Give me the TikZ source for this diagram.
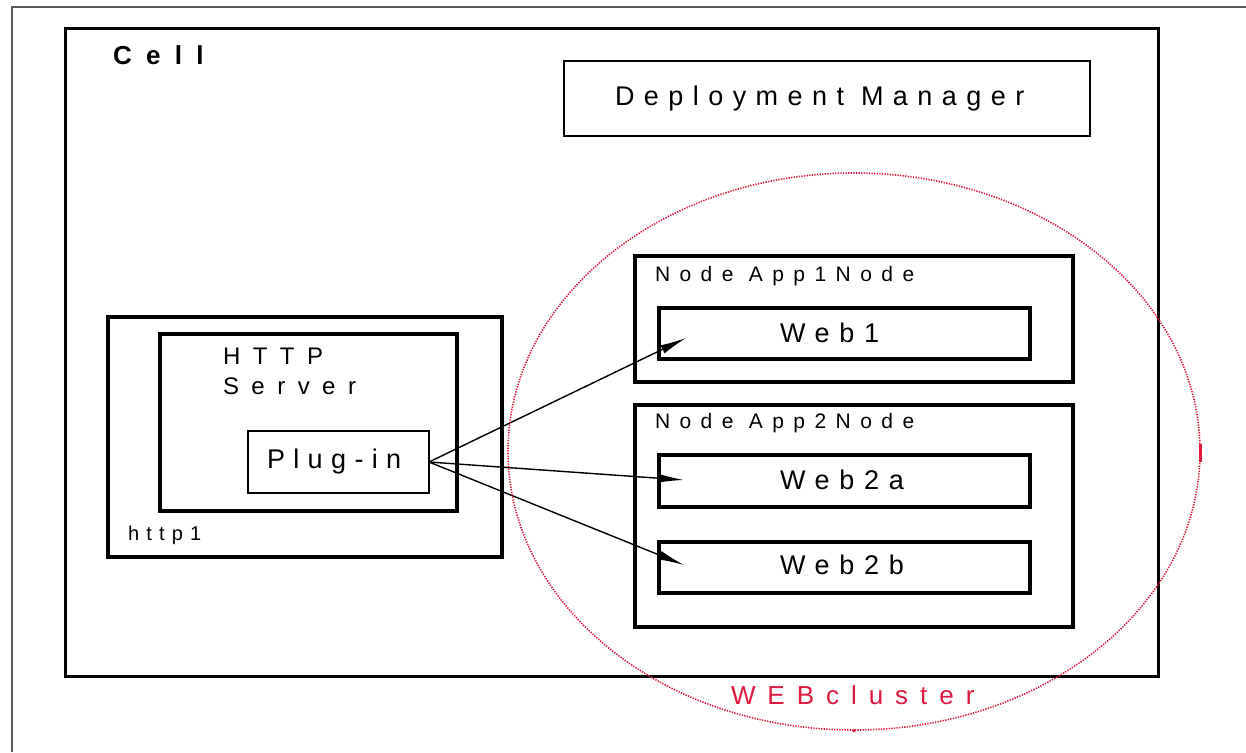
\documentclass[tikz,border=0pt]{standalone}
\usepackage{fontspec}
\setmainfont{Liberation Sans}
\usetikzlibrary{arrows.meta,shapes.geometric}
\definecolor{clusterred}{RGB}{222,24,62}
\definecolor{framegray}{RGB}{90,90,90}
% tracked sans text: size in pt, letter spacing in percent of the size
\newcommand\tracked[2]{\fontsize{#1pt}{30pt}\selectfont\addfontfeature{LetterSpace=#2}}

\begin{document}
\begin{tikzpicture}[x=1pt,y=-1pt,
  box/.style={draw=black,fill=none,inner sep=0pt,outer sep=0pt,rectangle},
  lbl/.style={inner sep=0pt,outer sep=0pt,text=black},
  link/.style={draw=black,line width=1.4pt,-{Latex[length=26pt,width=9pt]}},
  cluster/.style={draw=clusterred,ellipse,line width=1.6pt,
    dash pattern=on 1.3pt off 1.3pt,inner sep=0pt}]
  % page area
  \path[use as bounding box] (0,0) rectangle (1246,752);
  \draw[framegray,line width=1.6pt] (12,752) -- (12,7) -- (1246,7);

  % cell
  \node[box,line width=3pt,minimum width=1093pt,minimum height=647pt] (cell) at (611.5,352.5) {};
  \node[lbl,anchor=west,font=\bfseries\tracked{26}{55}] (celltxt) at (113,55) {Cell};

  % deployment manager
  \node[box,line width=2.4pt,minimum width=526pt,minimum height=75pt] (dm) at (827,98.5) {};
  \node[lbl,anchor=west,font=\tracked{27}{35}] (dmtxt) at (615,99) {Deployment Manager};

  % http server side
  \node[box,line width=4pt,minimum width=394pt,minimum height=240pt] (http) at (305,437) {};
  \node[box,line width=3.4pt,minimum width=297pt,minimum height=177pt] (server) at (308.5,422.5) {};
  \node[box,line width=1.7pt,minimum width=181pt,minimum height=62pt] (plugin) at (338.5,462) {};
  \node[lbl,anchor=west,font=\tracked{27}{31}] (plugintxt) at (267,462) {Plug-in};
  \node[lbl,anchor=north west,align=left,font=\tracked{24}{52}] (servertxt) at (223,348) {HTTP\\Server};
  \node[lbl,anchor=west,font=\tracked{20}{36}] (httptxt) at (128,535) {http1};

  % application nodes
  \node[box,line width=3.4pt,minimum width=438pt,minimum height=126pt] (app1) at (854,319) {};
  \node[lbl,anchor=west,font=\tracked{21}{45}] (app1txt) at (655,276) {Node App1Node};
  \node[box,line width=3.4pt,minimum width=371pt,minimum height=51pt] (web1) at (844.5,333.5) {};
  \node[lbl,anchor=west,font=\tracked{27}{36}] (web1txt) at (780,333) {Web1};

  \node[box,line width=3.4pt,minimum width=438pt,minimum height=222pt] (app2) at (854,516) {};
  \node[lbl,anchor=west,font=\tracked{21}{45}] (app2txt) at (655,423) {Node App2Node};
  \node[box,line width=3.4pt,minimum width=371pt,minimum height=52pt] (web2a) at (844.5,481) {};
  \node[lbl,anchor=west,font=\tracked{27}{36}] (web2atxt) at (780,480) {Web2a};
  \node[box,line width=3.4pt,minimum width=371pt,minimum height=51pt] (web2b) at (844.5,567.5) {};
  \node[lbl,anchor=west,font=\tracked{27}{36}] (web2btxt) at (780,565) {Web2b};

  % routes from the plug-in
  \draw[link] (plugin.east) -- ([xshift=27pt,yshift=-4.5pt]web1.west);
  \draw[link] (plugin.east) -- ([xshift=25pt,yshift=1pt]web2a.west);
  \draw[link] (plugin.east) -- ([xshift=25pt,yshift=2.5pt]web2b.west);

  % web cluster
  \node[cluster,minimum width=692pt,minimum height=557pt] (webcl) at (854,451.5) {};
  \draw[clusterred,line width=3pt] ([yshift=-10pt]webcl.east) -- ([yshift=8pt]webcl.east);
  \fill[clusterred] (webcl.south) circle (1.8pt);
  \node[lbl,anchor=west,text=clusterred,font=\tracked{26}{46}] (webcltxt) at (731,695) {WEBcluster};
\end{tikzpicture}
\end{document}
